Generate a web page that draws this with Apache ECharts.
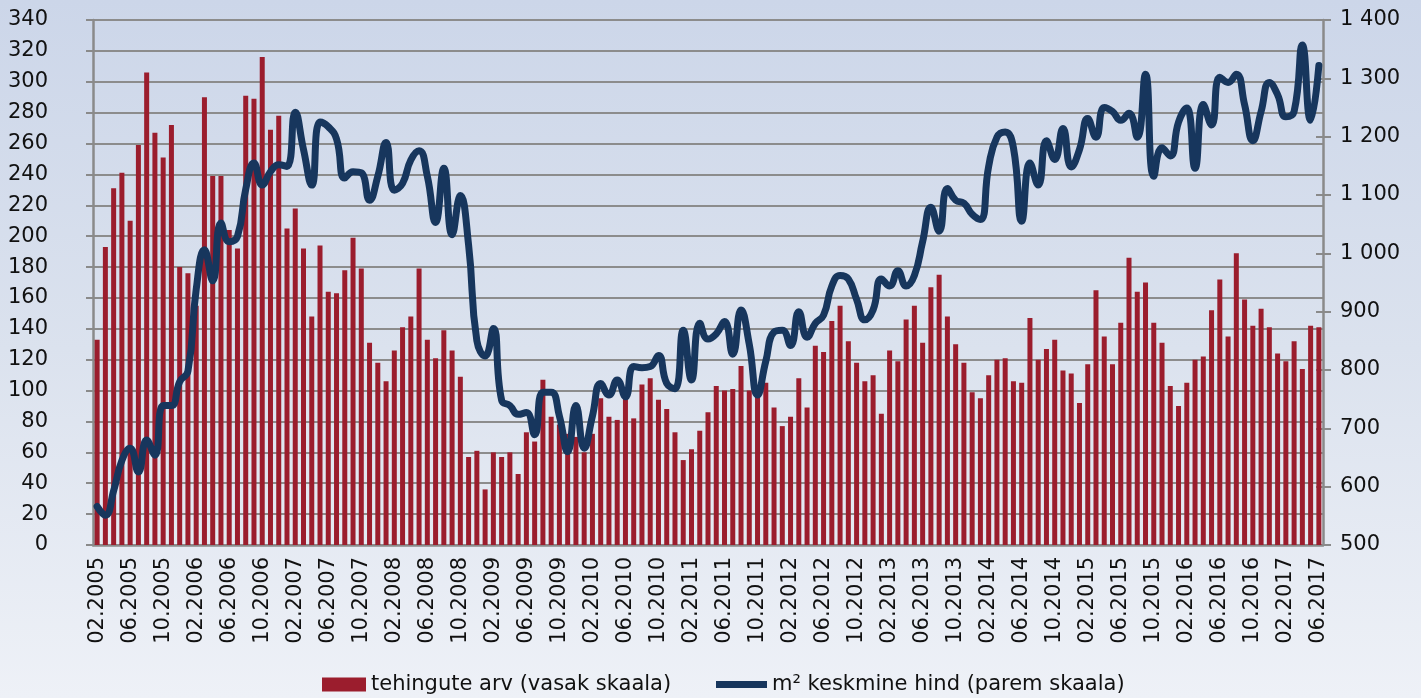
<!DOCTYPE html>
<html><head><meta charset="utf-8">
<script src="https://cdn.jsdelivr.net/npm/echarts@6/dist/echarts.min.js"></script>
<style>
html,body{margin:0;padding:0;}
#c{width:1421px;height:698px;background:linear-gradient(to bottom,#ccd6e9 0%,#dbe2ee 50%,#eef1f7 100%);}
</style>
</head><body><div id="c"></div>
<script>
const months = [
  '02.2005','03.2005','04.2005','05.2005','06.2005','07.2005','08.2005','09.2005','10.2005','11.2005','12.2005',
  '01.2006','02.2006','03.2006','04.2006','05.2006','06.2006','07.2006','08.2006','09.2006','10.2006','11.2006','12.2006',
  '01.2007','02.2007','03.2007','04.2007','05.2007','06.2007','07.2007','08.2007','09.2007','10.2007','11.2007','12.2007',
  '01.2008','02.2008','03.2008','04.2008','05.2008','06.2008','07.2008','08.2008','09.2008','10.2008','11.2008','12.2008',
  '01.2009','02.2009','03.2009','04.2009','05.2009','06.2009','07.2009','08.2009','09.2009','10.2009','11.2009','12.2009',
  '01.2010','02.2010','03.2010','04.2010','05.2010','06.2010','07.2010','08.2010','09.2010','10.2010','11.2010','12.2010',
  '01.2011','02.2011','03.2011','04.2011','05.2011','06.2011','07.2011','08.2011','09.2011','10.2011','11.2011','12.2011',
  '01.2012','02.2012','03.2012','04.2012','05.2012','06.2012','07.2012','08.2012','09.2012','10.2012','11.2012','12.2012',
  '01.2013','02.2013','03.2013','04.2013','05.2013','06.2013','07.2013','08.2013','09.2013','10.2013','11.2013','12.2013',
  '01.2014','02.2014','03.2014','04.2014','05.2014','06.2014','07.2014','08.2014','09.2014','10.2014','11.2014','12.2014',
  '01.2015','02.2015','03.2015','04.2015','05.2015','06.2015','07.2015','08.2015','09.2015','10.2015','11.2015','12.2015',
  '01.2016','02.2016','03.2016','04.2016','05.2016','06.2016','07.2016','08.2016','09.2016','10.2016','11.2016','12.2016',
  '01.2017','02.2017','03.2017','04.2017','05.2017','06.2017'
];
// tehingute arv (left axis)
const transactions = [
  133,193,231,241,210,259,306,267,251,272,180,176,155,290,239,239,204,192,291,
  289,316,269,278,205,218,192,148,194,164,163,178,199,179,131,118,106,126,141,148,
  179,133,121,139,126,109,57,61,36,60,57,60,46,73,67,107,83,78,72,70,
  60,72,95,83,81,95,82,104,108,94,88,73,55,62,74,86,103,100,101,116,
  100,98,105,89,77,83,108,89,129,125,145,155,132,118,106,110,85,126,119,146,
  155,131,167,175,148,130,118,99,95,110,120,121,106,105,147,120,127,133,113,111,
  92,117,165,135,117,144,186,164,170,144,131,103,90,105,120,122,152,172,135,189,
  159,142,153,141,124,119,132,114,142,141
];
// m² keskmine hind (right axis)
const pricePerM2 = [
  566,551,593,645,666,625,680,654,739,739,780,798,938,1006,953,1052,1020,1029,1110,
  1155,1117,1140,1152,1149,1242,1178,1117,1225,1217,1196,1129,1140,1138,1091,1132,1190,1108,1120,1160,
  1176,1132,1053,1146,1032,1099,1014,850,824,871,748,739,724,727,689,762,762,721,660,739,
  666,721,777,757,783,754,806,804,806,825,777,768,868,783,880,853,862,883,827,903,
  844,757,815,865,868,842,900,856,880,894,944,962,956,921,886,903,956,944,970,944,
  962,1020,1079,1038,1111,1091,1086,1067,1058,1149,1199,1208,1181,1055,1155,1117,1193,1161,1214,1148,
  1178,1231,1199,1250,1243,1228,1240,1199,1307,1132,1181,1167,1225,1249,1146,1255,1220,1302,1293,1307,
  1255,1193,1243,1293,1272,1234,1243,1357,1228,1322
];
const leftAxisRange = [0, 340, 20];
const rightAxisRange = [500, 1400, 100];
const seriesNames = ['tehingute arv (vasak skaala)', 'm² keskmine hind (parem skaala)'];

const FONT = 'DejaVu Sans';
const AX = '#8a8a8a';
const chart = echarts.init(document.getElementById('c'), null, {renderer:'canvas'});
chart.setOption({
  backgroundColor: 'transparent',
  animation: false,
  textStyle: {fontFamily: FONT},
  grid: {left: 93, right: 98, top: 20, bottom: 153, containLabel: false, outerBoundsMode: 'none'},
  legend: [
    {data:[{name: seriesNames[0], icon:'rect'}], left: 322, top: 674, padding: 0, itemWidth: 44, itemHeight: 14,
     textStyle:{fontFamily:FONT, fontSize:21, color:'#111'}},
    {data:[{name: seriesNames[1], icon:'path://M0,0 L51,0 L51,7 L0,7 Z', itemStyle:{color:'#17365d'}}],
     left: 716, top: 674, padding: 0, itemWidth: 51, itemHeight: 14,
     textStyle:{fontFamily:FONT, fontSize:21, color:'#111'}}
  ],
  xAxis: {
    type: 'category', data: months, boundaryGap: true,
    axisLine: {lineStyle: {color: AX, width: 2.5}},
    axisTick: {interval: 3, length: 8, lineStyle: {color: AX, width: 2.5}},
    axisLabel: {interval: 3, rotate: 90, margin: 12, fontSize: 21, color: '#111', fontFamily: FONT},
    splitLine: {show: false}
  },
  yAxis: [
    {type: 'value', position: 'left', min: leftAxisRange[0], max: leftAxisRange[1], interval: leftAxisRange[2],
     axisLine: {show: true, lineStyle: {color: AX, width: 2.5}},
     axisTick: {show: true, length: 7, lineStyle: {color: AX, width: 2}},
     axisLabel: {margin: 45, align: 'right', fontSize: 21, color: '#111', fontFamily: FONT},
     splitLine: {show: true, lineStyle: {color: '#8c8c8c', width: 2}}},
    {type: 'value', position: 'right', min: rightAxisRange[0], max: rightAxisRange[1], interval: rightAxisRange[2],
     axisLine: {show: true, lineStyle: {color: AX, width: 2.5}},
     axisTick: {show: true, length: 8, lineStyle: {color: AX, width: 2}},
     axisLabel: {margin: 17, align: 'left', fontSize: 21, color: '#111', fontFamily: FONT,
       formatter: v => v >= 1000 ? Math.floor(v/1000) + ' ' + String(v % 1000).padStart(3,'0') : String(v)},
     splitLine: {show: false}},
    {type: 'value', position: 'right', min: rightAxisRange[0], max: rightAxisRange[1], interval: rightAxisRange[2],
     axisLine: {show: false},
     axisTick: {show: true, inside: true, length: 7, lineStyle: {color: AX, width: 2}},
     axisLabel: {show: false}, splitLine: {show: false}}
  ],
  series: [
    {name: seriesNames[0], type: 'bar', data: transactions, barWidth: 5,
     itemStyle: {color: '#9b1d2d'}, z: 2},
    {name: seriesNames[1], type: 'line', yAxisIndex: 1, data: pricePerM2, smooth: 0.5,
     symbol: 'none', lineStyle: {color: '#17365d', width: 7, cap: 'round', join: 'round'},
     itemStyle: {color: '#17365d'}, z: 3}
  ]
});
</script>
</body></html>
